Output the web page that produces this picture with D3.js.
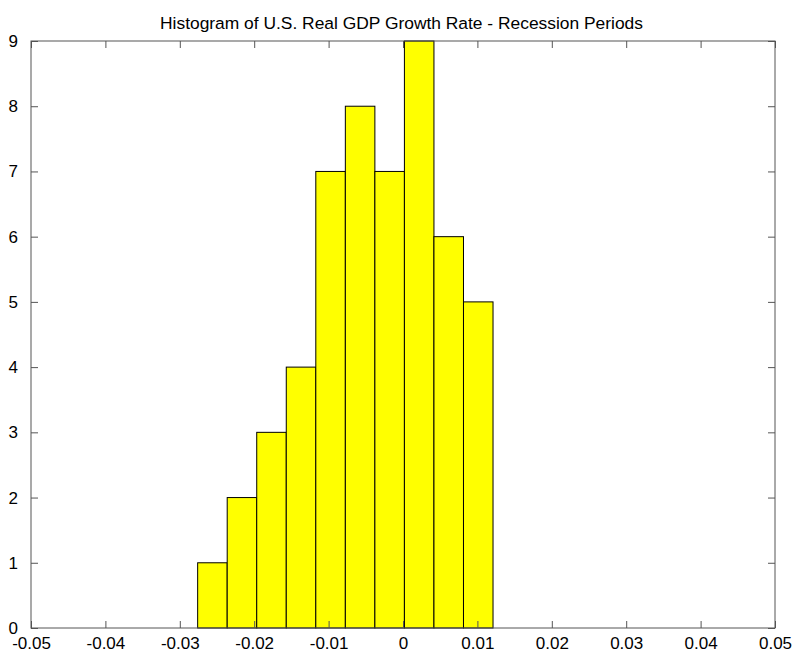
<!DOCTYPE html>
<html>
<head>
<meta charset="utf-8">
<script src="https://cdn.jsdelivr.net/npm/d3@7"></script>
<style>
  html, body { margin: 0; padding: 0; background: #fff; }
  svg { display: block; font-family: "Liberation Sans", Arial, sans-serif; }
</style>
</head>
<body>
<svg id="chart" width="796" height="653"></svg>
<script>
// Histogram bins: left/right edges and counts
const binEdges = [-0.0276, -0.02363, -0.01966, -0.01569, -0.01172, -0.00775, -0.00378, 0.00019, 0.00416, 0.00813, 0.0121];
const counts = [1, 2, 3, 4, 7, 8, 7, 9, 6, 5];
const xTicks = [-0.05, -0.04, -0.03, -0.02, -0.01, 0, 0.01, 0.02, 0.03, 0.04, 0.05];
const yTicks = [0, 1, 2, 3, 4, 5, 6, 7, 8, 9];
const titleText = "Histogram of U.S. Real GDP Growth Rate - Recession Periods";

const svg = d3.select("#chart");
const plotLeft = 31, plotRight = 775, plotTop = 41, plotBottom = 628;
const tickLen = 7;
const axisColor = "#555";

const x = d3.scaleLinear().domain([-0.05, 0.05]).range([plotLeft, plotRight]);
const y = d3.scaleLinear().domain([0, 9]).range([plotBottom, plotTop]);

const bins = counts.map((c, i) => ({ x0: binEdges[i], x1: binEdges[i + 1], count: c }));

// Bars
svg.append("g").selectAll("rect").data(bins).join("rect")
  .attr("x", d => x(d.x0))
  .attr("y", d => y(d.count))
  .attr("width", d => x(d.x1) - x(d.x0))
  .attr("height", d => y(0) - y(d.count))
  .attr("fill", "#ffff00")
  .attr("stroke", "#000")
  .attr("stroke-width", 1);

// Axes (ticks pointing inward on all four sides)
const fmtX = d => d === 0 ? "0" : d3.format(".2f")(d).replace("−", "-");
const styleAxis = g => {
  g.select(".domain").remove();
  g.selectAll(".tick line").attr("stroke", axisColor);
  g.selectAll(".tick text").attr("fill", "#000").style("font-size", "17px")
    .style("font-family", "'Liberation Sans', Arial, sans-serif");
};

svg.append("g").attr("transform", `translate(0,${plotBottom})`)
  .call(d3.axisBottom(x).tickValues(xTicks).tickSize(-tickLen).tickPadding(tickLen + 2).tickFormat(fmtX))
  .call(styleAxis);
svg.append("g").attr("transform", `translate(0,${plotTop})`)
  .call(d3.axisTop(x).tickValues(xTicks).tickSize(-tickLen).tickFormat(""))
  .call(styleAxis);
svg.append("g").attr("transform", `translate(${plotLeft},0)`)
  .call(d3.axisLeft(y).tickValues(yTicks).tickSize(-tickLen).tickPadding(tickLen + 6).tickFormat(d3.format("d")))
  .call(styleAxis);
svg.append("g").attr("transform", `translate(${plotRight},0)`)
  .call(d3.axisRight(y).tickValues(yTicks).tickSize(-tickLen).tickFormat(""))
  .call(styleAxis);

// Frame
svg.append("rect")
  .attr("x", plotLeft).attr("y", plotTop)
  .attr("width", plotRight - plotLeft).attr("height", plotBottom - plotTop)
  .attr("fill", "none").attr("stroke", axisColor).attr("stroke-width", 1);

// Title
svg.append("text")
  .attr("x", 401.5).attr("y", 28.5)
  .attr("text-anchor", "middle")
  .style("font-size", "17.4px")
  .attr("fill", "#000")
  .text(titleText);
</script>
</body>
</html>
